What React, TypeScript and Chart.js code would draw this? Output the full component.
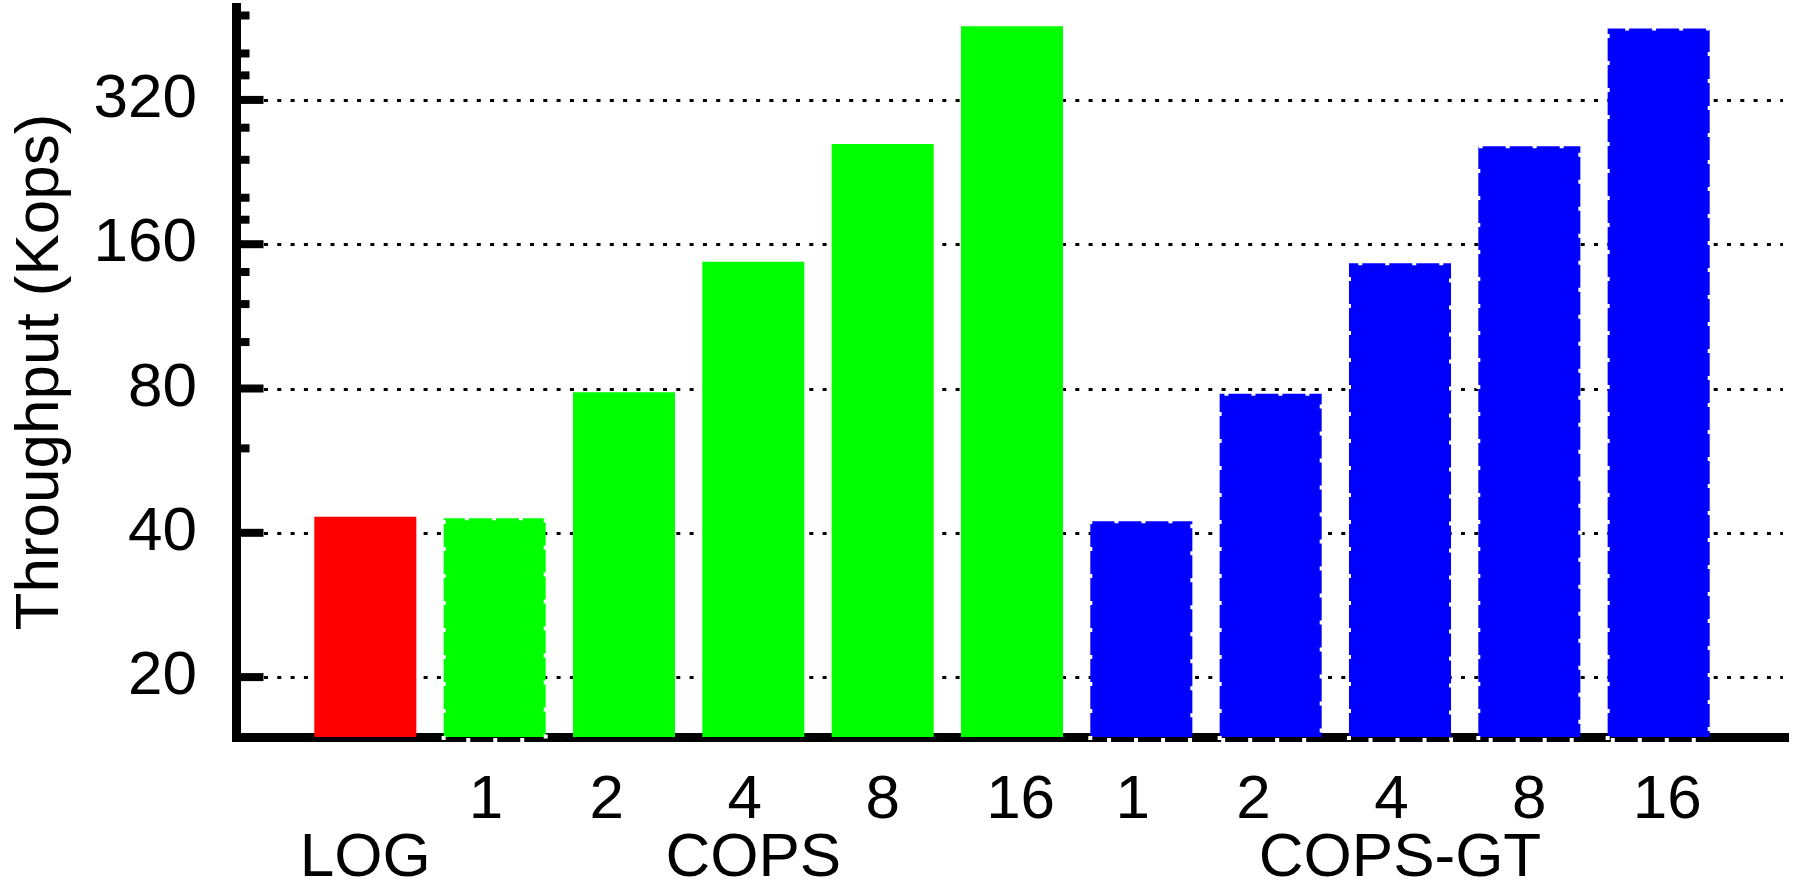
import React, { useEffect, useRef } from 'react';
import { Chart, registerables } from 'chart.js';

Chart.register(...registerables);

// ---- data ----
const groupNames = ['LOG', 'COPS', 'COPS-GT'];
const threadCounts = ['1', '2', '4', '8', '16'];
const logValues = [43.2];
const copsValues = [42.9, 78.6, 147, 259, 456];
const copsGtValues = [42.3, 78, 146, 256, 451];
const majorTicks = [20, 40, 80, 160, 320];
const minorTicks = [60, 100, 120, 140, 180, 200, 240, 280, 360, 400, 480];
const yTitle = 'Throughput (Kops)';

// style: horizontal nudge of each thread-count label, in space widths
// (positive = shift left, negative = shift right), as in the original figure
const labelNudge = [1, 2, 1, 0, -1];

const RED = '#ff0000';
const GREEN = '#00ff00';
const BLUE = '#0000ff';
const FONT = "'Liberation Sans', Arial, Helvetica, sans-serif";

const nudge = (t: string, n: number) =>
  n > 0 ? t + ' '.repeat(n) : n < 0 ? ' '.repeat(-n) + t : t;

const labels: (string | string[])[] = [
  '',
  ['', groupNames[0]],
  ...threadCounts.map((t, i) => [nudge(t, labelNudge[i]), i === 2 ? groupNames[1] : '']),
  ...threadCounts.map((t, i) => [nudge(t, labelNudge[i]), i === 2 ? groupNames[2] : '']),
  '',
];
const values = [null, ...logValues, ...copsValues, ...copsGtValues, null];
const colors = [
  'transparent',
  ...logValues.map(() => RED),
  ...copsValues.map(() => GREEN),
  ...copsGtValues.map(() => BLUE),
  'transparent',
];
// bars drawn with dashed outline (COPS 1 and all COPS-GT)
const dashed = [
  false,
  ...logValues.map(() => false),
  ...copsValues.map((_, i) => i === 0),
  ...copsGtValues.map(() => true),
  false,
];

const decorPlugin = {
  id: 'decor',
  beforeDatasetsDraw(chart: any) {
    const { ctx, chartArea, scales } = chart;
    const y = scales.y;
    ctx.save();
    ctx.strokeStyle = '#000';
    ctx.lineWidth = 3;
    ctx.setLineDash([4, 9.3]);
    for (const v of majorTicks) {
      const py = Math.round(y.getPixelForValue(v)) + 0.5;
      ctx.beginPath();
      ctx.moveTo(chartArea.left + 28, py);
      ctx.lineTo(chartArea.right - 5, py);
      ctx.stroke();
    }
    ctx.restore();
  },
  afterDatasetsDraw(chart: any) {
    const { ctx, chartArea, scales } = chart;
    const y = scales.y;
    ctx.save();
    ctx.fillStyle = '#000';
    const ax = chartArea.left + 4.5;
    for (const v of majorTicks) {
      const py = y.getPixelForValue(v);
      ctx.fillRect(ax, py - 4, 23, 8);
    }
    for (const v of minorTicks) {
      const py = y.getPixelForValue(v);
      ctx.fillRect(ax, py - 4, 9, 8);
    }
    // dashed white edge for dashed bars
    const meta = chart.getDatasetMeta(0);
    ctx.strokeStyle = '#ffffff';
    ctx.lineWidth = 4;
    ctx.setLineDash([4, 23]);
    meta.data.forEach((bar: any, i: number) => {
      if (!dashed[i] || values[i] == null) return;
      const p = bar.getProps(['x', 'y', 'base', 'width'], true);
      const l = p.x - p.width / 2;
      const r = p.x + p.width / 2;
      const t = p.y;
      const b = p.base + 3;
      ctx.beginPath();
      ctx.moveTo(l, b);
      ctx.lineTo(l, t);
      ctx.lineTo(r, t);
      ctx.lineTo(r, b);
      ctx.lineTo(l, b);
      ctx.stroke();
    });
    ctx.restore();
  },
};

export default function App() {
  const ref = useRef<HTMLCanvasElement | null>(null);
  useEffect(() => {
    document.body.style.margin = '0';
    const canvas = ref.current;
    if (!canvas) return;
    const chart = new Chart(canvas, {
      type: 'bar',
      data: {
        labels,
        datasets: [
          {
            data: values as any,
            backgroundColor: colors,
            borderWidth: 0,
            categoryPercentage: 1,
            barPercentage: 0.789,
          },
        ],
      },
      options: {
        animation: false,
        responsive: false,
        devicePixelRatio: 1,
        layout: { padding: { left: 0, top: 7, right: 8, bottom: 0 } },
        plugins: { legend: { display: false }, tooltip: { enabled: false } },
        scales: {
          x: {
            type: 'category',
            offset: false,
            grid: { display: false, drawTicks: false, tickLength: 0 },
            border: { display: true, width: 9, color: '#000' },
            ticks: {
              autoSkip: false,
              maxRotation: 0,
              minRotation: 0,
              padding: 34,
              color: '#000',
              font: { family: FONT, size: 62, lineHeight: 0.95 },
            },
            afterFit: (s: any) => {
              s.height = 150;
              s.paddingLeft = 0;
              s.paddingRight = 0;
              s.paddingTop = 0;
              s.paddingBottom = 0;
            },
          },
          y: {
            type: 'logarithmic',
            min: 15,
            max: 500,
            grid: { display: false, drawTicks: false, tickLength: 0 },
            border: { display: true, width: 9, color: '#000' },
            afterBuildTicks: (s: any) => {
              s.ticks = majorTicks.map((v) => ({ value: v }));
            },
            ticks: {
              padding: 39,
              color: '#000',
              font: { family: FONT, size: 62 },
              callback: (v: any) => String(v),
            },
            title: {
              display: true,
              text: yTitle,
              color: '#000',
              font: { family: FONT, size: 62, lineHeight: 1.2 },
              padding: { top: 4, bottom: 0 },
            },
            afterFit: (s: any) => {
              s.width = 236;
              s.paddingLeft = 0;
              s.paddingRight = 0;
              s.paddingTop = 0;
              s.paddingBottom = 0;
            },
          },
        },
      },
      plugins: [decorPlugin],
    });
    return () => chart.destroy();
  }, []);
  return (
    <div style={{ width: 1796, height: 887, background: '#fff' }}>
      <canvas ref={ref} width={1796} height={887} style={{ display: 'block' }} />
    </div>
  );
}
